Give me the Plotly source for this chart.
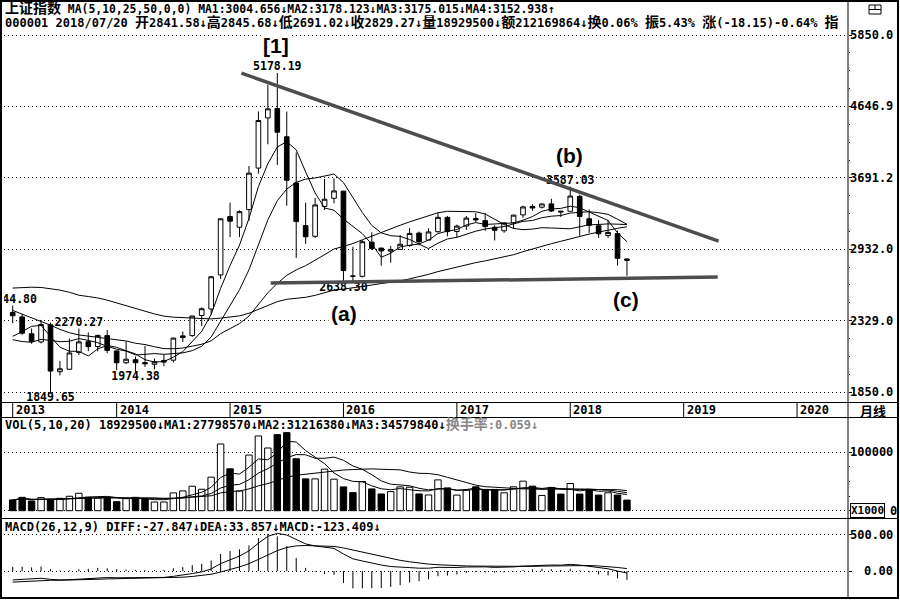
import numpy as np
import pandas as pd
import plotly.graph_objects as go

# monthly bars of 上证指数, 2013-02 .. 2018-07
MONTHS = pd.period_range('2013-02', '2018-07', freq='M')

OPEN = [2391.1, 2357.0, 2232.0, 2174.0, 2298.0, 1975.0, 1991.0, 2102.0, 2176.0, 2142.0, 2219.0,
        2112.0, 2033.0, 2053.0, 2034.0, 2023.0, 2037.0, 2050.0, 2205.0, 2219.0, 2368.0, 2418.0, 2699.0,
        3258.6, 3148.0, 3332.0, 3810.0, 4479.0, 4616.0, 4214.0, 3631.0, 3165.0, 3057.0, 3366.0, 3456.0,
        3536.6, 2688.8, 2687.0, 3000.0, 2943.0, 2914.0, 2931.0, 2968.0, 3089.0, 3020.0, 3103.0, 3249.0,
        3105.0, 3160.0, 3238.0, 3216.0, 3147.0, 3112.0, 3193.0, 3276.0, 3366.0, 3358.0, 3394.0, 3316.0,
        3314.0, 3478.0, 3235.0, 3163.0, 3066.0, 3084.0, 2841.58]
HIGH = [2444.80, 2378.0, 2271.0, 2334.33, 2313.5, 2045.0, 2198.0, 2270.27, 2242.0, 2226.0, 2260.0,
        2115.5, 2177.98, 2074.5, 2146.7, 2061.1, 2087.3, 2203.4, 2248.5, 2365.0, 2430.1, 2690.4, 3239.4,
        3406.8, 3324.6, 3835.6, 4572.4, 4985.6, 5178.19, 4572.4, 4006.3, 3407.6, 3459.6, 3678.3, 3684.6,
        3538.7, 2955.6, 3018.8, 3097.0, 2946.8, 2961.7, 3069.7, 3140.4, 3103.9, 3136.2, 3301.2, 3264.5,
        3174.6, 3264.3, 3295.2, 3295.2, 3167.6, 3197.5, 3276.9, 3373.8, 3391.0, 3397.0, 3450.5, 3318.0,
        3587.03, 3495.1, 3333.9, 3220.8, 3219.7, 3114.6, 2845.68]
LOW = [2310.0, 2225.0, 2161.8, 2164.0, 1849.65, 1951.5, 1987.7, 2083.6, 2110.0, 2108.5, 2096.3,
       1984.9, 2024.7, 1974.38, 2005.7, 1991.1, 2010.6, 2034.6, 2173.6, 2210.6, 2287.9, 2374.1, 2663.9,
       3049.1, 3049.1, 3215.1, 3742.2, 4113.3, 3847.9, 3373.5, 2850.7, 2983.5, 3039.7, 3327.8, 3400.0,
       2638.30, 2638.96, 2676.5, 2925.1, 2780.7, 2807.2, 2927.0, 2954.8, 2969.2, 3019.9, 3093.5, 3056.9,
       3044.2, 3120.7, 3200.9, 3111.7, 3016.5, 3092.0, 3132.0, 3243.6, 3320.1, 3343.9, 3306.9, 3254.2,
       3314.0, 3062.7, 3091.0, 3041.6, 3041.0, 2782.3, 2691.02]
CLOSE = [2365.59, 2236.62, 2177.91, 2300.59, 1979.21, 1993.80, 2098.38, 2174.67, 2141.61, 2220.50, 2115.98,
         2033.08, 2056.30, 2033.31, 2026.36, 2039.21, 2048.33, 2201.56, 2217.20, 2363.87, 2420.18, 2682.84,
         3234.68, 3210.36, 3310.30, 3747.90, 4441.66, 4611.74, 4277.22, 3663.73, 3205.99, 3052.78, 3382.56,
         3445.40, 3539.18, 2737.60, 2687.98, 3003.92, 2938.32, 2916.62, 2929.61, 2979.34, 3085.49, 3004.70,
         3100.49, 3250.03, 3103.64, 3159.17, 3241.73, 3222.51, 3154.66, 3117.18, 3192.43, 3273.03, 3360.81,
         3348.94, 3393.34, 3317.19, 3307.17, 3480.83, 3259.41, 3168.90, 3082.23, 3095.47, 2847.42, 2829.27]

MA5 = [2214, 2247, 2287, 2293, 2212, 2138, 2110, 2109, 2078, 2126, 2150, 2137, 2113, 2092, 2053, 2038, 2041,
       2070, 2107, 2174, 2250, 2377, 2584, 2782, 2972, 3237, 3589, 3864, 4078, 4148, 4040, 3762, 3516, 3350,
       3325, 3232, 3159, 3083, 2981, 2857, 2895, 2954, 2970, 2982, 3020, 3084, 3109, 3124, 3171, 3195, 3176,
       3179, 3186, 3192, 3220, 3258, 3314, 3339, 3345, 3369, 3352, 3307, 3260, 3217, 3091, 3005]
MA10 = [2190, 2177, 2172, 2192, 2185, 2176, 2179, 2198, 2185, 2169, 2144, 2124, 2111, 2085, 2089, 2094, 2089,
        2092, 2099, 2114, 2144, 2209, 2327, 2444, 2573, 2744, 2983, 3224, 3430, 3560, 3639, 3676, 3690, 3714,
        3737, 3636, 3460, 3300, 3166, 3091, 3063, 3056, 3026, 2982, 2938, 2990, 3031, 3047, 3077, 3108, 3130,
        3144, 3155, 3181, 3208, 3217, 3246, 3262, 3269, 3295, 3305, 3310, 3299, 3281, 3230, 3178]
MA25 = [2407, 2380, 2350, 2325, 2295, 2264, 2240, 2224, 2216, 2206, 2197, 2190, 2181, 2165, 2156, 2141, 2128,
        2127, 2132, 2145, 2158, 2182, 2233, 2270, 2307, 2363, 2451, 2548, 2627, 2695, 2743, 2781, 2830, 2882,
        2934, 2959, 2986, 3023, 3060, 3095, 3131, 3168, 3203, 3235, 3264, 3298, 3314, 3311, 3313, 3309, 3285,
        3232, 3176, 3136, 3123, 3129, 3143, 3140, 3135, 3132, 3153, 3172, 3176, 3182, 3179, 3175]
MA50 = [2587, 2592, 2594, 2592, 2582, 2570, 2552, 2528, 2517, 2506, 2488, 2465, 2441, 2422, 2401, 2380, 2363,
        2355, 2352, 2346, 2342, 2342, 2348, 2355, 2365, 2385, 2415, 2449, 2476, 2495, 2504, 2511, 2527, 2549,
        2570, 2578, 2588, 2602, 2612, 2625, 2636, 2648, 2665, 2683, 2704, 2728, 2748, 2772, 2791, 2808, 2824,
        2842, 2862, 2881, 2909, 2936, 2962, 2985, 3008, 3033, 3056, 3079, 3099, 3121, 3137, 3153]

# volume, x1000
VOLUME = [18300, 22800, 16600, 22300, 18300, 21100, 24600, 29700, 22800, 21700, 22800, 15400, 20600, 22800,
          20600, 14800, 14800, 30300, 33700, 41700, 36500, 57100, 113600, 71400, 33700, 94800, 127300, 106800,
          129600, 133000, 88500, 54200, 54200, 70800, 53700, 40500, 30800, 49700, 37100, 28500, 32500, 40500,
          40000, 28500, 26800, 52500, 38800, 26600, 35000, 40700, 36200, 36200, 30500, 40700, 50300, 41800,
          26000, 39600, 28300, 46300, 28300, 36200, 26600, 30500, 26600, 18100]
VOL_MA5 = [18300, 20550, 19233, 20000, 19660, 19220, 20580, 23200, 23300, 23980, 24320, 22480, 20660, 20660,
           20440, 18840, 18720, 20660, 22840, 27060, 31400, 39860, 56520, 64060, 62460, 74120, 88160, 86800,
           98440, 118300, 117040, 102420, 91900, 80140, 64280, 54680, 50000, 49100, 42360, 37320, 35720, 37660,
           35720, 34000, 33660, 37660, 37320, 34640, 35940, 38720, 35460, 34940, 35720, 36860, 38780, 39900,
           37860, 39680, 37200, 36400, 33700, 35740, 33140, 33580, 29640, 27600]
VOL_MA10 = [18300, 20550, 19233, 20000, 19660, 19900, 20571, 21712, 21833, 21820, 22270, 21530, 21930, 21980,
            22210, 21580, 20600, 20660, 21750, 23750, 25120, 29290, 38590, 43450, 44760, 52760, 64010, 71660,
            81250, 90380, 95580, 95290, 89350, 89290, 91290, 85860, 76210, 70500, 61250, 50800, 45200, 43830,
            42410, 38180, 35490, 36690, 37490, 35180, 34970, 36190, 36560, 36130, 35180, 36400, 38750, 37680,
            36400, 37700, 37030, 37590, 36800, 36800, 36410, 35390, 33020, 30650]
VOL_MA20 = [18300, 20550, 19233, 20000, 19660, 19900, 20571, 21712, 21833, 21820, 21909, 21367, 21308, 21414,
            21360, 20950, 20588, 21128, 21789, 22785, 23695, 25410, 30260, 32715, 33485, 37170, 42305, 46160,
            51500, 57065, 60350, 62290, 63970, 66370, 68025, 69310, 70110, 71080, 71250, 70590, 70390, 69560,
            65880, 63735, 63390, 61275, 56850, 52840, 48110, 43495, 40880, 39980, 38795, 37290, 37120, 37185,
            36945, 36440, 36000, 36890, 36680, 36465, 35795, 35895, 35885, 34165]

DIFF = [-124, -117, -114, -101, -116, -124, -121, -112, -105, -93, -91, -94, -94, -95, -95, -93, -89,
        -74, -59, -35, -12, 28, 103, 158, 207, 279, 387, 481, 522, 500, 440, 376, 348, 326,
        314, 236, 169, 139, 109, 83, 62, 50, 47, 39, 39, 51, 48, 49, 56, 60, 57,
        50, 51, 57, 68, 75, 84, 83, 81, 92, 82, 66, 46, 31, -1, -28]
DEA = [-154, -146, -140, -132, -129, -128, -127, -124, -120, -115, -110, -107, -104, -102, -101, -99, -97,
       -93, -86, -76, -63, -45, -15, 19, 57, 101, 158, 223, 283, 326, 349, 354, 353, 348,
       341, 320, 290, 260, 230, 200, 173, 148, 128, 110, 96, 87, 79, 73, 70, 68, 66,
       62, 60, 60, 61, 64, 68, 71, 73, 77, 78, 76, 70, 62, 49, 34]
MACD = [59, 59, 51, 62, 26, 7, 10, 24, 29, 43, 38, 25, 20, 15, 12, 13, 16,
        38, 54, 81, 102, 145, 236, 277, 301, 355, 457, 516, 479, 347, 182, 43, -11, -42,
        -54, -167, -242, -241, -240, -235, -221, -197, -161, -143, -114, -72, -63, -48, -27, -16, -18,
        -24, -19, -5, 14, 23, 31, 24, 16, 31, 9, -19, -47, -62, -101, -123]

PRICE_TICKS = [1850.0, 2329.0, 2932.0, 3691.2, 4646.9, 5850.0]
VOL_TICKS = [0, 100000]
MACD_TICKS = [0, 500]
YEARS = [2013, 2014, 2015, 2016, 2017, 2018, 2019, 2020]

# marked highs / lows
MARK_MONTH = ['2013-02', '2013-06', '2013-09', '2014-03', '2015-06', '2016-01', '2018-01']
MARK_PRICE = [2444.80, 1849.65, 2270.27, 1974.38, 5178.19, 2638.30, 3587.03]
MARK_SIDE = ['top', 'bottom', 'top', 'bottom', 'top', 'bottom', 'top']

# hand drawn wave labels and trend lines (month index, price)
WAVE_TEXT = ['[1]', '(a)', '(b)', '(c)']
WAVE_X = [27.9, 35.1, 58.9, 64.9]
WAVE_PRICE = [5664, 2386, 3972, 2496]
UPPER_TREND_X = [24.2, 74.7]
UPPER_TREND_PRICE = [5175, 3010]
LOWER_TREND_X = [27.3, 74.6]
LOWER_TREND_PRICE = [2629, 2680]

W, H = 900, 600
MONO = 'DejaVu Sans Mono, Noto Sans CJK SC'


def px(x):
    return x / W


def py(y):
    return 1 - y / H


def wide(text):
    # chinese glyphs of the terminal font are a bit wider than the ascii ones
    return ''.join('<span style="font-size:14px">%s</span>' % c if ord(c) > 0x2e80 else c for c in text)


x = np.arange(len(CLOSE))
first = MONTHS[0]
up = [c >= o for o, c in zip(OPEN, CLOSE)]

fig = go.Figure()

fig.add_trace(go.Candlestick(x=x, open=OPEN, high=HIGH, low=LOW, close=CLOSE, xaxis='x', yaxis='y',
                             increasing=dict(line=dict(color='black', width=1), fillcolor='white'),
                             decreasing=dict(line=dict(color='black', width=1), fillcolor='black'),
                             whiskerwidth=0, showlegend=False, hoverinfo='skip'))
for ma in [MA5, MA10, MA25, MA50]:
    fig.add_trace(go.Scatter(x=x, y=ma, mode='lines', line=dict(color='black', width=1),
                             xaxis='x', yaxis='y', showlegend=False, hoverinfo='skip'))

mark_x = [(pd.Period(m, 'M') - first).n for m in MARK_MONTH]
for side in ['top', 'bottom']:
    sel = [i for i, s in enumerate(MARK_SIDE) if s == side]
    fig.add_trace(go.Scatter(x=[mark_x[i] for i in sel], y=[MARK_PRICE[i] for i in sel],
                             text=['%.2f' % MARK_PRICE[i] for i in sel], mode='text',
                             textposition=side + ' center',
                             textfont=dict(family=MONO, size=11.5, color='black', weight='bold'),
                             xaxis='x', yaxis='y', showlegend=False, hoverinfo='skip'))

for tx, ty in [(UPPER_TREND_X, UPPER_TREND_PRICE), (LOWER_TREND_X, LOWER_TREND_PRICE)]:
    fig.add_trace(go.Scatter(x=tx, y=ty, mode='lines', line=dict(color='#4d4d4d', width=3.5),
                             xaxis='x', yaxis='y', showlegend=False, hoverinfo='skip'))

# volume
fig.add_trace(go.Bar(x=x, y=VOLUME, width=0.68, xaxis='x2', yaxis='y2',
                     marker=dict(color=['white' if u else 'black' for u in up],
                                 line=dict(color='black', width=1)),
                     showlegend=False, hoverinfo='skip'))
for vm in [VOL_MA5, VOL_MA10, VOL_MA20]:
    fig.add_trace(go.Scatter(x=x, y=vm, mode='lines', line=dict(color='black', width=1),
                             xaxis='x2', yaxis='y2', showlegend=False, hoverinfo='skip'))

# macd
fig.add_trace(go.Scatter(x=x, y=[0] * len(MACD), mode='markers', marker=dict(size=1, opacity=0),
                         error_y=dict(type='data', symmetric=False, array=[max(v, 0) for v in MACD],
                                      arrayminus=[max(-v, 0) for v in MACD], width=0, thickness=1,
                                      color='black'),
                         xaxis='x3', yaxis='y3', showlegend=False, hoverinfo='skip'))
for line in [DIFF, DEA]:
    fig.add_trace(go.Scatter(x=x, y=line, mode='lines', line=dict(color='black', width=1),
                             xaxis='x3', yaxis='y3', showlegend=False, hoverinfo='skip'))

xspan = [-0.921, 88.39]
xdom = [px(4), px(848)]
grid = dict(showgrid=True, gridcolor='black', gridwidth=1, griddash='1px,3px', zeroline=False,
            showticklabels=False, ticks='outside', ticklen=3, tickcolor='black', side='right')

price_minor = []
for a, b in zip(PRICE_TICKS[:-1], PRICE_TICKS[1:]):
    price_minor += [a * (b / a) ** (k / 4) for k in (1, 2, 3)]

fig.update_layout(
    width=W, height=H, margin=dict(l=0, r=0, t=0, b=0),
    paper_bgcolor='white', plot_bgcolor='white',
    xaxis=dict(domain=xdom, range=xspan, type='linear', visible=False, anchor='y',
               rangeslider=dict(visible=False)),
    xaxis2=dict(domain=xdom, range=xspan, type='linear', visible=False, anchor='y2', matches='x'),
    xaxis3=dict(domain=xdom, range=xspan, type='linear', visible=False, anchor='y3', matches='x'),
    yaxis=dict(grid, domain=[py(403), py(1)], type='log', range=[3.25176, 3.81496], anchor='x',
               tickvals=PRICE_TICKS,
               minor=dict(tickvals=price_minor, ticks='outside', ticklen=1, tickcolor='black', showgrid=False)),
    yaxis2=dict(grid, domain=[py(517), py(418)], range=[-10733, 157922], anchor='x2', tickvals=VOL_TICKS,
                minor=dict(tickvals=[25000, 50000, 75000], ticks='outside', ticklen=1, tickcolor='black',
                           showgrid=False)),
    yaxis3=dict(grid, domain=[py(597), py(519)], range=[-361, 722], anchor='x3', tickvals=MACD_TICKS),
)

# frame
frame = dict(type='line', xref='paper', yref='paper', line=dict(color='black', width=1))
fig.add_shape(type='rect', xref='paper', yref='paper', x0=px(1), x1=px(898), y0=py(1), y1=py(598),
              line=dict(color='black', width=2))
fig.add_shape(frame, x0=px(848), x1=px(848), y0=py(1), y1=py(598))
for yy in [402.5, 417.5, 518.5]:
    fig.add_shape(frame, x0=px(1), x1=px(898), y0=py(yy), y1=py(yy))
fig.add_shape(type='rect', xref='paper', yref='paper', x0=px(869), x1=px(881), y0=py(5), y1=py(14),
              line=dict(color='black', width=1))
fig.add_shape(frame, x0=px(869), x1=px(881), y0=py(9.5), y1=py(9.5))
fig.add_shape(frame, x0=px(875), x1=px(875), y0=py(5), y1=py(9.5))

# year row
for yr in YEARS:
    pos = max(0, (pd.Period('%d-01' % yr, 'M') - first).n)
    fig.add_shape(type='line', xref='x', yref='paper', x0=pos, x1=pos, y0=py(403), y1=py(417),
                  line=dict(color='black', width=1))
    fig.add_annotation(text=str(yr), xref='x', yref='paper', x=pos, y=py(410), xanchor='left', yanchor='middle',
                       xshift=1, showarrow=False, font=dict(family=MONO, size=12, color='black', weight='bold'))
fig.add_annotation(text='月线', xref='paper', yref='paper', x=px(873), y=py(410), xanchor='center',
                   yanchor='middle', showarrow=False,
                   font=dict(family='Noto Sans CJK SC', size=13, color='black', weight='bold'))

# headers
head = dict(xref='paper', yref='paper', xanchor='left', yanchor='middle', showarrow=False,
            font=dict(family=MONO, size=12, color='black', weight='bold'))
fig.add_annotation(head, x=px(3), y=py(8), font=dict(family=MONO, size=11.4, color='black', weight='bold'),
                   text=wide('上证指数 MA(5,10,25,50,0,0) MA1:3004.656↓MA2:3178.123↓MA3:3175.015↓MA4:3152.938↑'))
fig.add_annotation(head, x=px(3), y=py(22),
                   text=wide('000001 2018/07/20 开2841.58↓高2845.68↓低2691.02↓收2829.27↓量18929500↓'
                             '额212169864↓换0.06% 振5.43% 涨(-18.15)-0.64% 指'))
fig.add_annotation(head, x=px(3), y=py(424),
                   text='VOL(5,10,20) 18929500↓MA1:27798570↓MA2:31216380↓MA3:34579840↓'
                        '<span style="color:#888888">' + wide('换手率') + ':0.059↓</span>')
fig.add_annotation(head, x=px(3), y=py(527),
                   text='MACD(26,12,9) DIFF:-27.847↓DEA:33.857↓MACD:-123.409↓')

# axis labels in the right column
lab = dict(xref='paper', x=px(895), xanchor='right', yanchor='middle', showarrow=False,
           font=dict(family=MONO, size=12, color='black', weight='bold'))
for v in PRICE_TICKS:
    fig.add_annotation(lab, yref='y', y=np.log10(v), text='%.1f' % v)
fig.add_annotation(lab, yref='y2', y=VOL_TICKS[1], text=str(VOL_TICKS[1]))
fig.add_annotation(xref='paper', x=px(850), xanchor='left', yanchor='middle', yref='y2', y=VOL_TICKS[0],
                   text='X1000', showarrow=False, bordercolor='black', borderwidth=1, borderpad=0,
                   bgcolor='white', font=dict(family=MONO, size=11, color='black', weight='bold'))
fig.add_annotation(xref='paper', x=px(888), xanchor='left', yanchor='middle', yref='y2', y=VOL_TICKS[0],
                   text='0', showarrow=False, font=dict(family=MONO, size=12, color='black', weight='bold'))
for v in MACD_TICKS:
    fig.add_annotation(lab, yref='y3', y=v, text='%.2f' % v)

# wave labels
for t, wx, wp in zip(WAVE_TEXT, WAVE_X, WAVE_PRICE):
    fig.add_annotation(text=t, xref='x', yref='y', x=wx, y=np.log10(wp), xanchor='center', yanchor='middle',
                       showarrow=False, bgcolor='white', borderpad=2,
                       font=dict(family='Liberation Sans', size=21, color='black', weight='bold'))

fig.write_html('out.html', config={'displayModeBar': False},
               post_script="document.body.style.margin='0';")
